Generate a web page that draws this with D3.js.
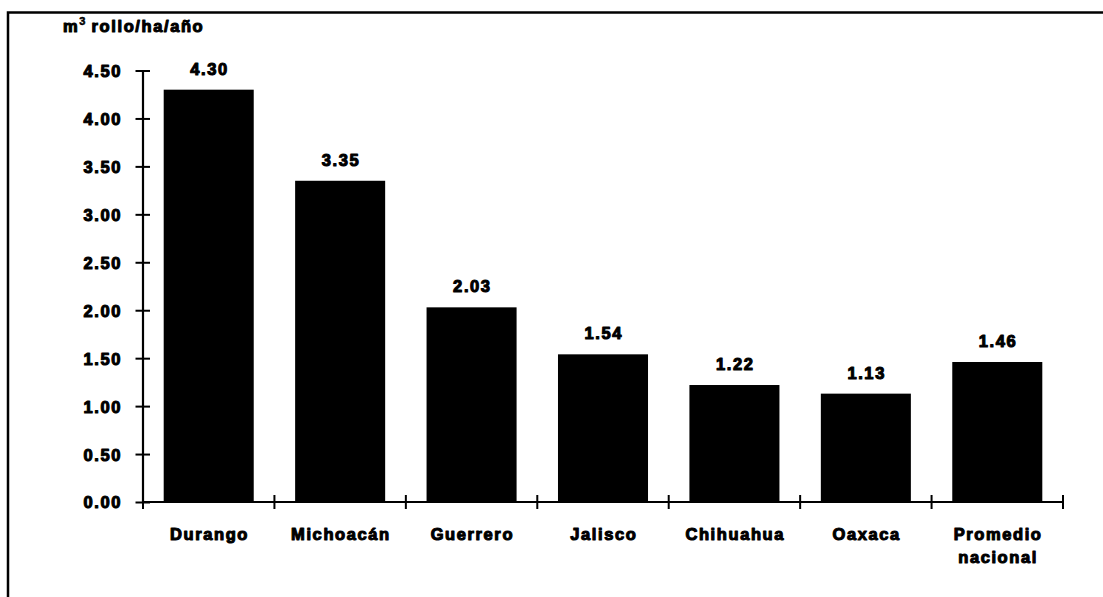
<!DOCTYPE html>
<html>
<head>
<meta charset="utf-8">
<script src="https://cdn.jsdelivr.net/npm/d3@7"></script>
<style>
  html, body { margin: 0; padding: 0; background: #fff; }
  svg { display: block; }
  .lbl { font-family: "Liberation Sans", Arial, sans-serif; font-weight: bold; font-size: 16.5px;
         letter-spacing: 1.6px; fill: #000; stroke: #000; stroke-width: 1.1px; stroke-linejoin: round; }
</style>
</head>
<body>
<svg id="chart" width="1103" height="597"></svg>
<script>
// Incremento medio anual por entidad (m³ rollo/ha/año)
const categories = ["Durango", "Michoacán", "Guerrero", "Jalisco", "Chihuahua", "Oaxaca", "Promedio nacional"];
const values = [4.30, 3.35, 2.03, 1.54, 1.22, 1.13, 1.46];
const yTicks = [0, 0.5, 1, 1.5, 2, 2.5, 3, 3.5, 4, 4.5];
const yUnit = "m³ rollo/ha/año";

const svg = d3.select("#chart");

// outer frame: left and top edges only
svg.append("path")
  .attr("d", "M8,597V12.5H1103")
  .attr("fill", "none").attr("stroke", "#000").attr("stroke-width", 2.5);

const x = d3.scaleBand().domain(categories).range([143, 1063])
  .paddingInner(0.315).paddingOuter(0.1575);
const y = d3.scaleLinear().domain([0, 4.5]).range([502, 70.5]);

// bars
svg.append("g").selectAll("rect").data(values).join("rect")
  .attr("x", (d, i) => x(categories[i]))
  .attr("width", x.bandwidth())
  .attr("y", d => y(d))
  .attr("height", d => y(0) - y(d))
  .attr("fill", "#000");

// value labels
svg.append("g").selectAll("text").data(values).join("text")
  .attr("class", "lbl")
  .attr("x", (d, i) => x(categories[i]) + x.bandwidth() / 2 + 0.8)
  .attr("y", d => y(d) - 15)
  .attr("text-anchor", "middle")
  .text(d => d.toFixed(2));

// y axis
const yAxis = svg.append("g").attr("transform", "translate(143,0)")
  .call(d3.axisLeft(y).tickValues(yTicks).tickFormat(d3.format(".2f")).tickSize(7).tickPadding(14));
yAxis.select(".domain").attr("stroke-width", 2.2).attr("d", `M0,${y(4.5)}V${y(0) + 1}`);
yAxis.selectAll(".tick line").attr("x1", -7.5).attr("x2", 7).attr("stroke-width", 2);
yAxis.selectAll(".tick text").attr("class", "lbl").attr("dy", "0.36em").attr("font-size", null).attr("font-family", null);

// x axis line and category boundary ticks
const xAxis = svg.append("g").attr("transform", `translate(0,${y(0)})`);
xAxis.append("line").attr("x1", 143).attr("x2", 1063).attr("stroke", "#000").attr("stroke-width", 2.2);
const bounds = d3.range(categories.length + 1).map(i => x.range()[0] + i * x.step());
xAxis.selectAll("line.tk").data(bounds).join("line").attr("class", "tk")
  .attr("x1", d => d).attr("x2", d => d)
  .attr("y1", -7).attr("y2", 7)
  .attr("stroke", "#000").attr("stroke-width", 2);

// category labels (wrapped on spaces for the national average)
const catText = svg.append("g").selectAll("text").data(categories).join("text")
  .attr("class", "lbl")
  .attr("text-anchor", "middle")
  .attr("x", d => x(d) + x.bandwidth() / 2 + 0.8)
  .attr("y", 540);
catText.each(function(d) {
  const words = d === "Promedio nacional" ? d.split(" ") : [d];
  const t = d3.select(this);
  words.forEach((w, i) => {
    t.append("tspan").attr("x", x(d) + x.bandwidth() / 2 + 0.8).attr("dy", i === 0 ? 0 : 23).text(w);
  });
});

// unit title with superscript
const title = svg.append("text").attr("class", "lbl").attr("x", 63).attr("y", 32);
title.append("tspan").text("m");
title.append("tspan").attr("font-size", "11px").attr("dy", -7).attr("letter-spacing", "0px").attr("stroke-width", 0.5).text("3");
title.append("tspan").attr("dy", 7).text(" rollo/ha/año");
</script>
</body>
</html>
